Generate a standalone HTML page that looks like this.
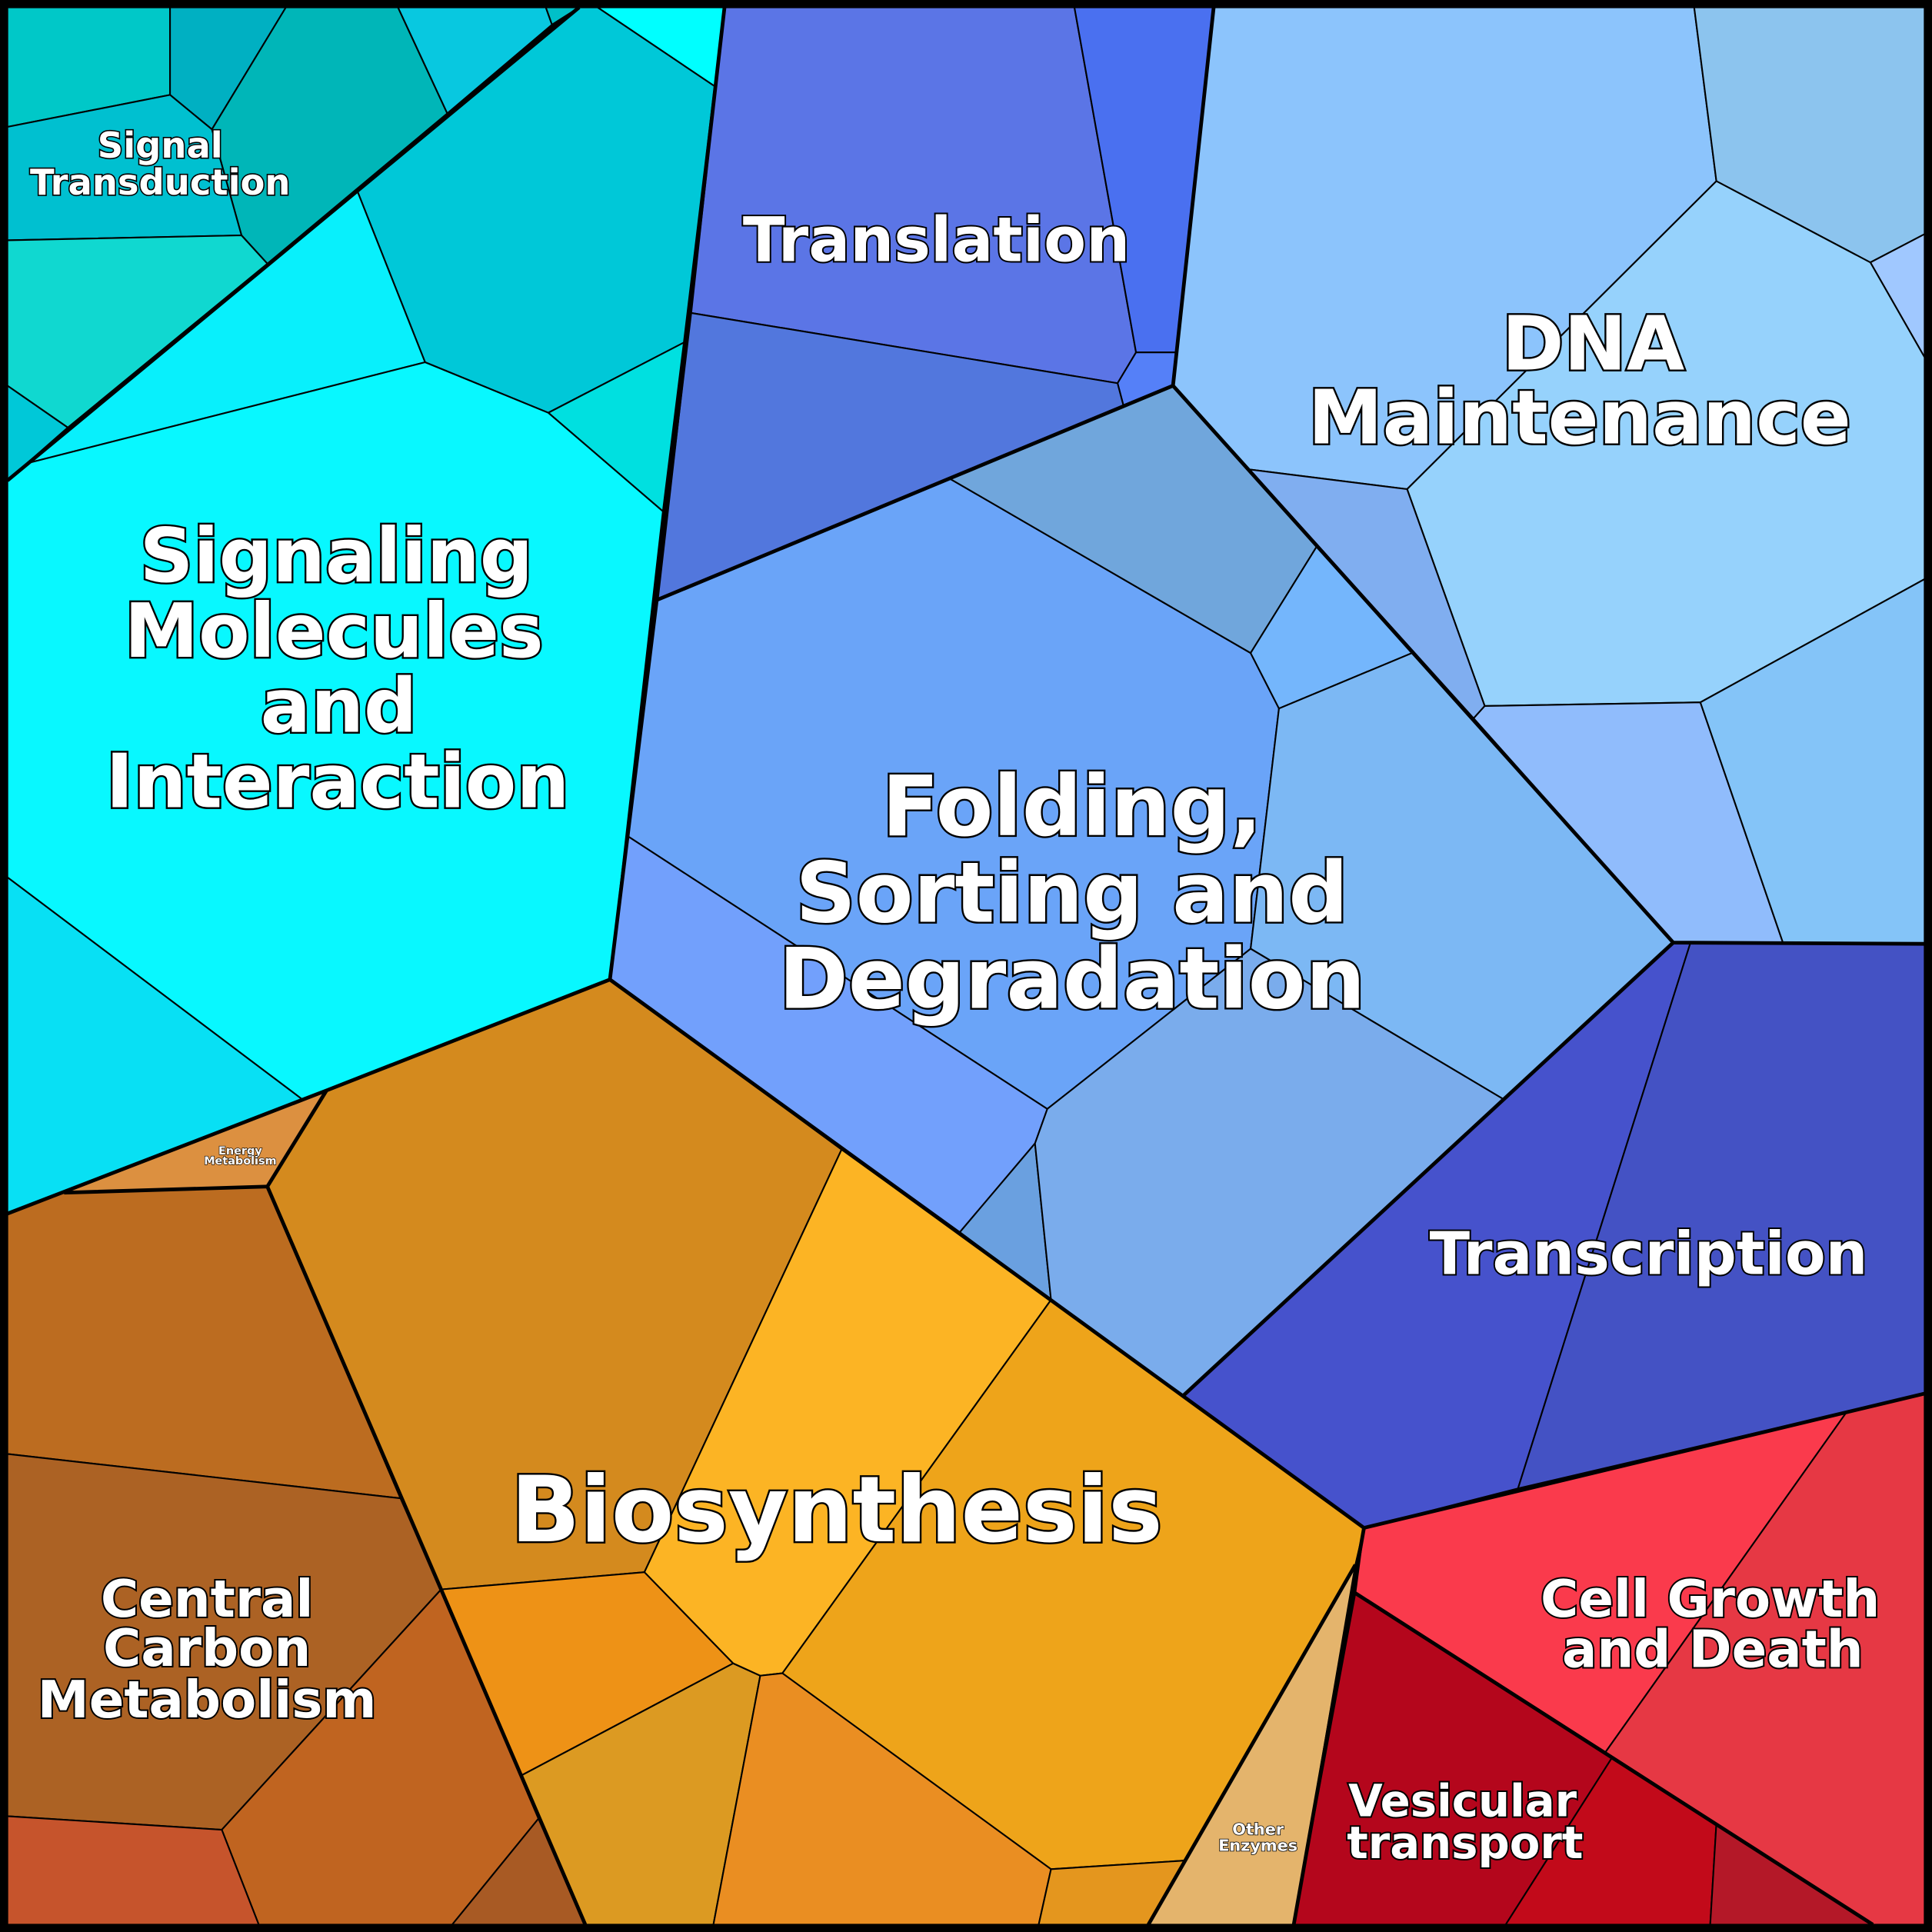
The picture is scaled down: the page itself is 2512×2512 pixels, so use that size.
<!DOCTYPE html>
<html><head><meta charset="utf-8"><style>
html,body{margin:0;padding:0;background:#000}
svg{display:block}
text{font-family:"DejaVu Sans","Liberation Sans",sans-serif;font-weight:bold;fill:#fff;stroke:#000;paint-order:stroke;text-anchor:middle}
</style></head><body>
<svg width="2512" height="2512" viewBox="0 0 1568 1568" xmlns="http://www.w3.org/2000/svg">
<rect x="0" y="0" width="1568" height="1568" fill="#000"/>
<g stroke="#000" stroke-width="1.3" stroke-linejoin="round">
<polygon fill="#00c8c8" points="6,6 138,6 138,77 6,103"/>
<polygon fill="#00b0c2" points="138,6 232,6 172,105 138,77"/>
<polygon fill="#00b6b8" points="232,6 323,6 363,92 217,214 196,191 172,105"/>
<polygon fill="#08c8e0" points="323,6 443,6 448,20 363,92"/>
<polygon fill="#00c0c8" points="443,6 470,6 448,20"/>
<polygon fill="#00c0d0" points="6,103 138,77 172,105 196,191 6,195"/>
<polygon fill="#10d8d0" points="6,195 196,191 217,214 55,347 6,313"/>
<polygon fill="#00c8d8" points="6,313 55,347 6,390"/>
<polygon fill="#00ffff" points="470,6 588,6 580,70 485,6"/>
<polygon fill="#00c8d8" points="290,155 470,6 485,6 580,70 555,278 445,335 345,294"/>
<polygon fill="#00e0e0" points="445,335 555,278 538,415"/>
<polygon fill="#08f0fc" points="290,155 345,294 22,376"/>
<polygon fill="#08f8ff" points="6,390 22,376 345,294 445,335 538,415 495,795 265,885 245,892 6,712"/>
<polygon fill="#08e0f4" points="6,712 245,892 6,985"/>
<polygon fill="#5b75e6" points="588,6 872,6 922,286 907,311 561,254"/>
<polygon fill="#4a70f0" points="872,6 985,6 955,286 922,286"/>
<polygon fill="#5580f8" points="922,286 955,286 952,313 912,330 907,311"/>
<polygon fill="#5277dd" points="561,254 907,311 912,330 533,487"/>
<polygon fill="#8cc4fc" points="985,6 1375,6 1393,147 1142,397 1014,381 952,313"/>
<polygon fill="#8cc4ee" points="1375,6 1562,6 1562,190 1518,213 1393,147"/>
<polygon fill="#a0c8ff" points="1518,213 1562,190 1562,290"/>
<polygon fill="#96d2fc" points="1393,147 1518,213 1562,290 1562,470 1380,570 1205,573 1142,397"/>
<polygon fill="#80aef0" points="1014,381 1142,397 1205,573 1196,583"/>
<polygon fill="#90bcfc" points="1196,583 1205,573 1380,570 1447,765 1358,765"/>
<polygon fill="#84c4f8" points="1380,570 1562,470 1562,766 1447,765"/>
<polygon fill="#6aa4f8" points="533,487 770,388 1015,530 1038,575 1015,770 850,900 510,679"/>
<polygon fill="#70a6dc" points="770,388 952,313 1069,443 1015,530"/>
<polygon fill="#74b6fc" points="1069,443 1146,530 1038,575 1015,530"/>
<polygon fill="#7cb8f4" points="1038,575 1146,530 1358,765 1220,892 1015,770"/>
<polygon fill="#72a0fc" points="510,679 850,900 840,928 779,1000 495,795"/>
<polygon fill="#6aa0e0" points="779,1000 840,928 853,1055"/>
<polygon fill="#7aacec" points="840,928 850,900 1015,770 1220,892 960,1133 853,1055"/>
<polygon fill="#4652cc" points="960,1133 1358,765 1372,765 1232,1208 1107,1240"/>
<polygon fill="#4452c4" points="1372,765 1562,766 1562,1131 1232,1208"/>
<polygon fill="#fa3a4c" points="1107,1240 1498,1147 1303,1422 1100,1293"/>
<polygon fill="#e63844" points="1498,1147 1562,1131 1562,1562 1520,1562 1393,1480 1303,1422"/>
<polygon fill="#b4061c" points="1100,1293 1308,1427 1222,1562 1050,1562"/>
<polygon fill="#c20a1a" points="1308,1427 1393,1480 1388,1562 1222,1562"/>
<polygon fill="#b41828" points="1393,1480 1520,1562 1388,1562"/>
<polygon fill="#d48a1e" points="217,963 265,885 495,795 683,933 523,1276 358,1290"/>
<polygon fill="#fcb424" points="683,933 853,1055 635,1358 617,1360 595,1350 523,1276"/>
<polygon fill="#eea41a" points="853,1055 960,1133 1107,1240 1100,1270 962,1510 853,1517 635,1358"/>
<polygon fill="#ee9216" points="358,1290 523,1276 595,1350 423,1441"/>
<polygon fill="#dc9a22" points="423,1441 595,1350 617,1360 579,1562 475,1562"/>
<polygon fill="#ea8e22" points="617,1360 635,1358 853,1517 843,1562 579,1562"/>
<polygon fill="#e4961e" points="853,1517 962,1510 932,1562 843,1562"/>
<polygon fill="#e4b46c" points="1100,1270 1050,1562 932,1562"/>
<polygon fill="#bc6c20" points="6,985 52,968 217,963 325,1216 6,1180"/>
<polygon fill="#ac6224" points="6,1180 325,1216 358,1290 180,1485 6,1474"/>
<polygon fill="#c06420" points="180,1485 358,1290 437,1476 367,1562 210,1562"/>
<polygon fill="#a85a24" points="437,1476 475,1562 367,1562"/>
<polygon fill="#c6542c" points="6,1474 180,1485 210,1562 6,1562"/>
<polygon fill="#dc9040" points="52,968 265,885 217,963"/>
</g>
<g fill="none" stroke="#000" stroke-width="3" stroke-linejoin="round">
<polyline points="588,6 533,487 495,795"/>
<polyline points="470,6 6,390"/>
<polyline points="6,985 265,885 495,795 960,1133 1107,1240 1050,1562"/>
<polyline points="533,487 952,313 985,6"/>
<polyline points="952,313 1358,765 1562,766"/>
<polyline points="1358,765 960,1133"/>
<polyline points="1107,1240 1562,1131"/>
<polyline points="1100,1293 1520,1562"/>
<polyline points="52,968 217,963 358,1290 475,1562"/>
<polyline points="265,885 217,963"/>
<polyline points="1100,1270 932,1562"/>
</g>
<rect x="3" y="3" width="1562" height="1562" fill="none" stroke="#000" stroke-width="6"/>
<g>
<text x="130" y="128" font-size="29" stroke-width="2">Signal</text>
<text x="130" y="158" font-size="29" stroke-width="2">Transduction</text>
<text x="760" y="212" font-size="50" stroke-width="2.5">Translation</text>
<text x="1293" y="300" font-size="60.8" stroke-width="3">DNA</text>
<text x="1282" y="360" font-size="60.8" stroke-width="3">Maintenance</text>
<text x="273" y="472" font-size="60.5" stroke-width="3">Signaling</text>
<text x="271" y="533" font-size="60.5" stroke-width="3">Molecules</text>
<text x="275" y="594" font-size="60.5" stroke-width="3">and</text>
<text x="274" y="655" font-size="60.5" stroke-width="3">Interaction</text>
<text x="870" y="678" font-size="68" stroke-width="3">Folding,</text>
<text x="870" y="748" font-size="68" stroke-width="3">Sorting and</text>
<text x="870" y="818" font-size="68" stroke-width="3">Degradation</text>
<text x="1338" y="1034" font-size="48" stroke-width="2.5">Transcription</text>
<text x="679" y="1251" font-size="74" stroke-width="3">Biosynthesis</text>
<text x="1388" y="1312" font-size="42" stroke-width="2.5">Cell Growth</text>
<text x="1390" y="1353" font-size="42" stroke-width="2.5">and Death</text>
<text x="168" y="1312" font-size="42" stroke-width="2.5">Central</text>
<text x="168" y="1352" font-size="42" stroke-width="2.5">Carbon</text>
<text x="168" y="1394" font-size="42" stroke-width="2.5">Metabolism</text>
<text x="1187" y="1474" font-size="36" stroke-width="2.5">Vesicular</text>
<text x="1189" y="1508" font-size="36" stroke-width="2.5">transport</text>
<text x="195" y="937" font-size="9" stroke-width="0.8">Energy</text>
<text x="195" y="945" font-size="9" stroke-width="0.8">Metabolism</text>
<text x="1021" y="1489" font-size="13" stroke-width="1">Other</text>
<text x="1021" y="1502" font-size="13" stroke-width="1">Enzymes</text>
</g>
</svg>
</body></html>
